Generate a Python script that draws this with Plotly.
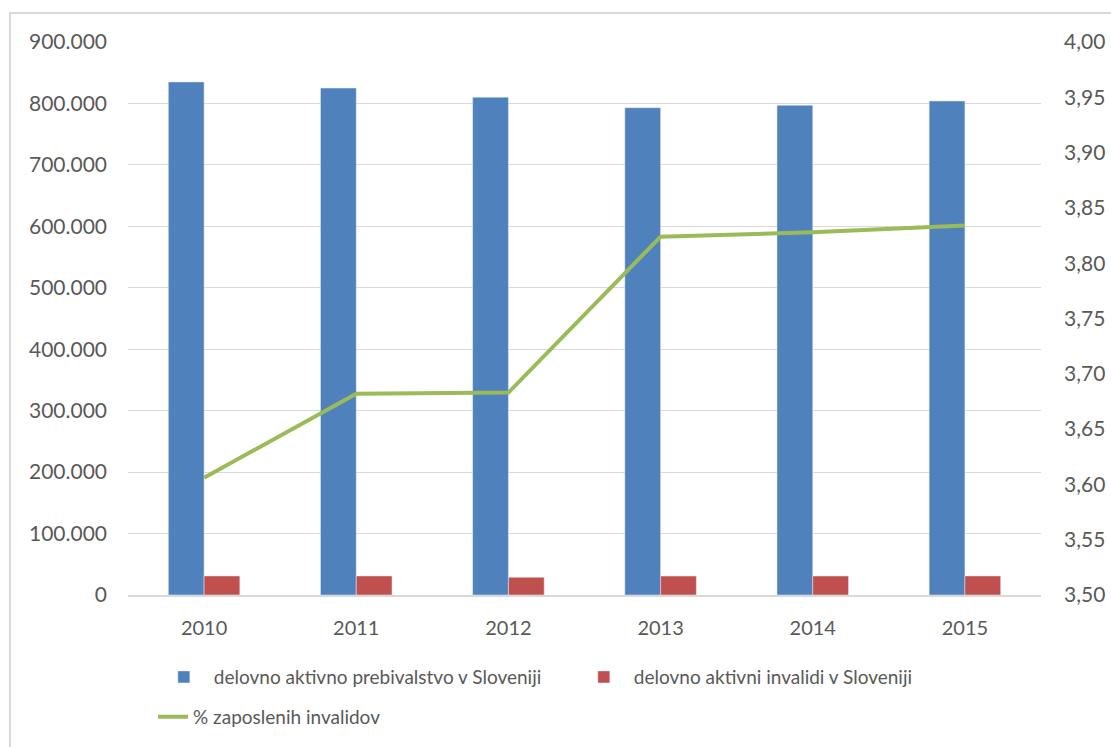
import plotly.graph_objects as go

years = ["2010", "2011", "2012", "2013", "2014", "2015"]
aktivno_prebivalstvo = [835000, 825000, 810000, 793000, 797000, 804000]
aktivni_invalidi = [31000, 31000, 28800, 30800, 30900, 31000]
pct_invalidov = [3.606, 3.682, 3.683, 3.824, 3.828, 3.834]

name_blue = "delovno aktivno prebivalstvo v Sloveniji"
name_red = "delovno aktivni invalidi v Sloveniji"
name_green = "% zaposlenih invalidov"

font_family = "Lato, 'Open Sans', sans-serif"
grey = "#595959"

fig = go.Figure()
fig.add_trace(go.Bar(x=years, y=aktivno_prebivalstvo, name=name_blue,
                     marker=dict(color="#4F81BD"), yaxis="y", legend="legend"))
fig.add_trace(go.Bar(x=years, y=aktivni_invalidi, name=name_red,
                     marker=dict(color="#C0504D"), yaxis="y", legend="legend"))
fig.add_trace(go.Scatter(x=years, y=pct_invalidov, name=name_green, mode="lines",
                         line=dict(color="#9BBB59", width=4), yaxis="y2",
                         legend="legend2"))

fig.update_layout(
    width=1111, height=747,
    margin=dict(l=128, r=70, t=42, b=152, autoexpand=False),
    paper_bgcolor="white", plot_bgcolor="white",
    separators=",.",
    barmode="group", bargap=0.53, bargroupgap=0,
    font=dict(family=font_family, size=20, color=grey),
    xaxis=dict(showgrid=False, showline=True, linecolor="#D9D9D9", linewidth=2,
               ticks="", ticklabelstandoff=14, tickfont=dict(size=20, color=grey)),
    yaxis=dict(range=[0, 900000], dtick=100000, tickformat=",d",
               showgrid=True, gridcolor="#D9D9D9", gridwidth=1, zeroline=False,
               showline=False, ticks="", ticklabelstandoff=20,
               tickfont=dict(size=21, color=grey)),
    yaxis2=dict(range=[3.5, 4.0], dtick=0.05, tickformat=".2f", overlaying="y",
                side="right", showgrid=False, zeroline=False, showline=False,
                ticks="", ticklabelstandoff=22, tickfont=dict(size=21, color=grey)),
    legend=dict(orientation="h", x=0.0283, y=-0.114, xanchor="left", yanchor="top",
                entrywidth=355, entrywidthmode="pixels",
                font=dict(size=19, color=grey), tracegroupgap=0,
                itemwidth=50),
    legend2=dict(orientation="h", x=0.0274, y=-0.186, xanchor="left", yanchor="top",
                 font=dict(size=19, color=grey), itemwidth=30),
    showlegend=True,
)

# outer chart border
fig.add_shape(type="rect", xref="paper", yref="paper",
              x0=-0.1292, x1=1.1, y0=-0.3, y1=1.0524,
              line=dict(color="#D9D9D9", width=2), fillcolor="rgba(0,0,0,0)",
              layer="below")

fig.write_html("out.html")
